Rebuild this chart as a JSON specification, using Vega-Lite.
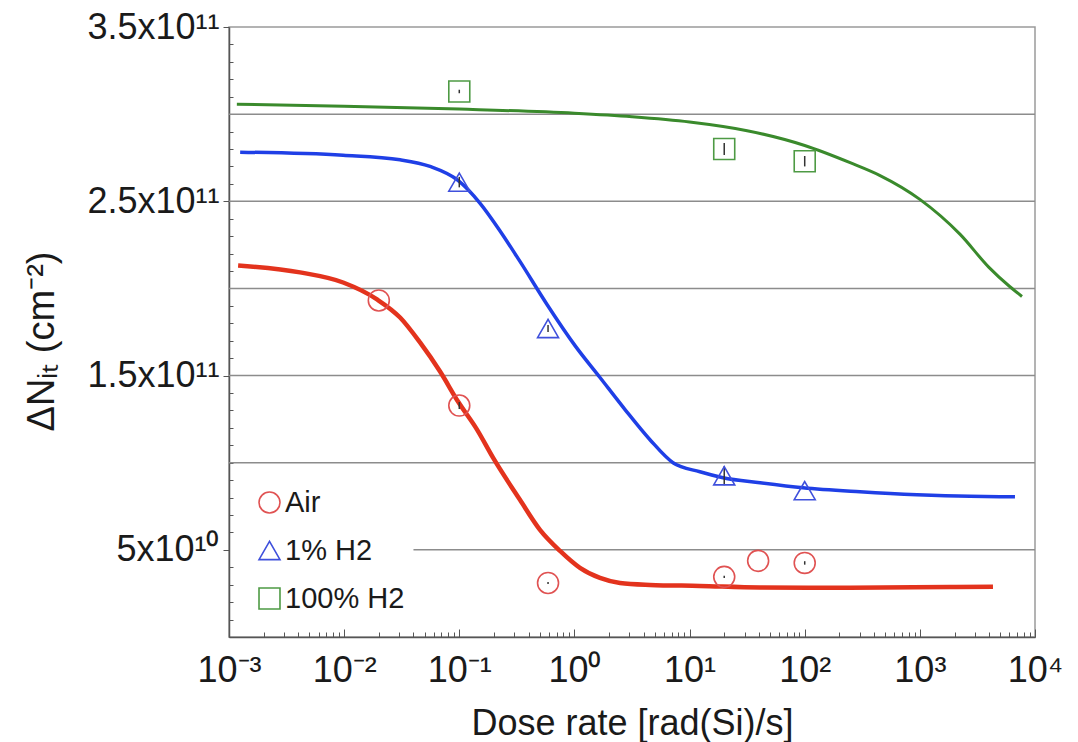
{
  "$schema": "https://vega.github.io/schema/vega-lite/v6.json",
  "width": 806,
  "height": 610,
  "autosize": {"type": "none"},
  "padding": {"left": 229, "top": 27, "right": 43, "bottom": 105},
  "background": "white",
  "config": {
    "font": "Liberation Sans",
    "view": {"stroke": "#9a9a9a", "strokeWidth": 1.5},
    "axis": {"grid": false}
  },
  "datasets": {
    "grid": [
      {"g": 50000000000, "xa": 0.04, "xb": 10000},
      {"g": 100000000000, "xa": 0.001, "xb": 10000},
      {"g": 150000000000, "xa": 0.001, "xb": 10000},
      {"g": 200000000000, "xa": 0.001, "xb": 10000},
      {"g": 250000000000, "xa": 0.001, "xb": 10000},
      {"g": 300000000000, "xa": 0.001, "xb": 10000}
    ],
    "curves": [
      {"series": "Air", "rate": 0.0012, "n": 2.132e11},
      {"series": "Air", "rate": 0.00414, "n": 2.092e11},
      {"series": "Air", "rate": 0.0098, "n": 2.034e11},
      {"series": "Air", "rate": 0.0193, "n": 1.937e11},
      {"series": "Air", "rate": 0.0306, "n": 1.833e11},
      {"series": "Air", "rate": 0.0456, "n": 1.69e11},
      {"series": "Air", "rate": 0.0681, "n": 1.523e11},
      {"series": "Air", "rate": 0.0975, "n": 1.351e11},
      {"series": "Air", "rate": 0.1426, "n": 1.19e11},
      {"series": "Air", "rate": 0.1963, "n": 1.029e11},
      {"series": "Air", "rate": 0.3365, "n": 7.87e10},
      {"series": "Air", "rate": 0.502, "n": 6.15e10},
      {"series": "Air", "rate": 0.75, "n": 4.94e10},
      {"series": "Air", "rate": 1.117, "n": 3.97e10},
      {"series": "Air", "rate": 1.667, "n": 3.39e10},
      {"series": "Air", "rate": 2.489, "n": 3.1e10},
      {"series": "Air", "rate": 4.53, "n": 2.99e10},
      {"series": "Air", "rate": 12.3, "n": 2.93e10},
      {"series": "Air", "rate": 40.9, "n": 2.84e10},
      {"series": "Air", "rate": 247, "n": 2.83e10},
      {"series": "Air", "rate": 1828, "n": 2.87e10},
      {"series": "Air", "rate": 4315, "n": 2.88e10},
      {"series": "1% H2", "rate": 0.00125, "n": 2.782e11},
      {"series": "1% H2", "rate": 0.0098, "n": 2.764e11},
      {"series": "1% H2", "rate": 0.0306, "n": 2.738e11},
      {"series": "1% H2", "rate": 0.0557, "n": 2.7e11},
      {"series": "1% H2", "rate": 0.0975, "n": 2.62e11},
      {"series": "1% H2", "rate": 0.151, "n": 2.49e11},
      {"series": "1% H2", "rate": 0.226, "n": 2.33e11},
      {"series": "1% H2", "rate": 0.3365, "n": 2.155e11},
      {"series": "1% H2", "rate": 0.578, "n": 1.908e11},
      {"series": "1% H2", "rate": 1.012, "n": 1.672e11},
      {"series": "1% H2", "rate": 1.667, "n": 1.489e11},
      {"series": "1% H2", "rate": 2.75, "n": 1.305e11},
      {"series": "1% H2", "rate": 4.53, "n": 1.132e11},
      {"series": "1% H2", "rate": 7.18, "n": 1.0e11},
      {"series": "1% H2", "rate": 12.3, "n": 9.48e10},
      {"series": "1% H2", "rate": 19.5, "n": 9.14e10},
      {"series": "1% H2", "rate": 40.9, "n": 8.85e10},
      {"series": "1% H2", "rate": 96.6, "n": 8.56e10},
      {"series": "1% H2", "rate": 302, "n": 8.33e10},
      {"series": "1% H2", "rate": 944, "n": 8.16e10},
      {"series": "1% H2", "rate": 2729, "n": 8.07e10},
      {"series": "1% H2", "rate": 6699, "n": 8.05e10},
      {"series": "100% H2", "rate": 0.00117, "n": 3.057e11},
      {"series": "100% H2", "rate": 0.01, "n": 3.046e11},
      {"series": "100% H2", "rate": 0.1, "n": 3.029e11},
      {"series": "100% H2", "rate": 1, "n": 3.005e11},
      {"series": "100% H2", "rate": 3.16, "n": 2.985e11},
      {"series": "100% H2", "rate": 10, "n": 2.955e11},
      {"series": "100% H2", "rate": 31.6, "n": 2.905e11},
      {"series": "100% H2", "rate": 100, "n": 2.82e11},
      {"series": "100% H2", "rate": 251, "n": 2.72e11},
      {"series": "100% H2", "rate": 447, "n": 2.649e11},
      {"series": "100% H2", "rate": 1000, "n": 2.511e11},
      {"series": "100% H2", "rate": 2239, "n": 2.31e11},
      {"series": "100% H2", "rate": 3981, "n": 2.121e11},
      {"series": "100% H2", "rate": 6026, "n": 2.011e11},
      {"series": "100% H2", "rate": 7709, "n": 1.954e11}
    ],
    "points": [
      {"gas": "Air", "rate": 0.02, "n": 1.931e11, "lo": null, "hi": null},
      {"gas": "Air", "rate": 0.1, "n": 1.328e11, "lo": 1.308e11, "hi": 1.348e11},
      {"gas": "Air", "rate": 0.59, "n": 3.1e10, "lo": 3.04e10, "hi": 3.16e10},
      {"gas": "Air", "rate": 20, "n": 3.45e10, "lo": 3.38e10, "hi": 3.52e10},
      {"gas": "Air", "rate": 39.4, "n": 4.37e10, "lo": null, "hi": null},
      {"gas": "Air", "rate": 100, "n": 4.25e10, "lo": 4.15e10, "hi": 4.35e10},
      {"gas": "1% H2", "rate": 0.1, "n": 2.61e11, "lo": 2.58e11, "hi": 2.64e11},
      {"gas": "1% H2", "rate": 0.59, "n": 1.77e11, "lo": 1.75e11, "hi": 1.79e11},
      {"gas": "1% H2", "rate": 20, "n": 9.25e10, "lo": 8.7e10, "hi": 9.8e10},
      {"gas": "1% H2", "rate": 100, "n": 8.4e10, "lo": null, "hi": null},
      {"gas": "100% H2", "rate": 0.1, "n": 3.13e11, "lo": 3.12e11, "hi": 3.14e11},
      {"gas": "100% H2", "rate": 20, "n": 2.8e11, "lo": 2.765e11, "hi": 2.835e11},
      {"gas": "100% H2", "rate": 100, "n": 2.73e11, "lo": 2.7e11, "hi": 2.76e11}
    ]
  },
  "layer": [
    {
      "data": {"name": "grid"},
      "mark": {"type": "rule", "color": "#8c8c8c", "strokeWidth": 1.5},
      "encoding": {
        "y": {
          "field": "g", "type": "quantitative",
          "scale": {"domain": [0, 350000000000], "nice": false, "zero": false},
          "axis": {
            "title": "ΔNᵢₜ (cm⁻²)",
            "titleFontSize": 38, "titleFontWeight": "normal", "titleColor": "#1a1a1a",
            "titleAngle": -90, "titleAlign": "center", "titleBaseline": "alphabetic",
            "titleX": -176, "titleY": 314,
            "tickCount": 100,
            "values": [0, 10000000000, 20000000000, 30000000000, 40000000000, 50000000000, 60000000000, 70000000000, 80000000000, 90000000000, 100000000000, 110000000000, 120000000000, 130000000000, 140000000000, 150000000000, 160000000000, 170000000000, 180000000000, 190000000000, 200000000000, 210000000000, 220000000000, 230000000000, 240000000000, 250000000000, 260000000000, 270000000000, 280000000000, 290000000000, 300000000000, 310000000000, 320000000000, 330000000000, 340000000000, 350000000000],
            "labelExpr": "round(datum.value/1e9) == 50 ? '5x10¹⁰' : round(datum.value/1e9) == 150 ? '1.5x10¹¹' : round(datum.value/1e9) == 250 ? '2.5x10¹¹' : round(datum.value/1e9) == 350 ? '3.5x10¹¹' : ''",
            "labelFontSize": 36, "labelColor": "#1a1a1a", "labelPadding": 4,
            "labelOverlap": false, "labelBound": false, "labelFlush": false,
            "tickColor": "#555555", "tickWidth": 1,
            "tickSize": {"condition": {"test": "indexof([50,150,250,350], round(datum.value/1e9)) >= 0", "value": 6}, "value": -4},
            "domainColor": "#555555", "domainWidth": 1.5
          }
        },
        "x": {
          "field": "xa", "type": "quantitative",
          "scale": {"type": "log", "domain": [0.001, 10000], "nice": false},
          "axis": {
            "title": "Dose rate [rad(Si)/s]",
            "titleFontSize": 36, "titleFontWeight": "normal", "titleColor": "#1a1a1a",
            "titleBaseline": "alphabetic", "titleY": 97,
            "tickCount": 200,
            "values": [0.001, 0.002, 0.003, 0.004, 0.005, 0.006, 0.007, 0.008, 0.009, 0.01, 0.02, 0.03, 0.04, 0.05, 0.06, 0.07, 0.08, 0.09, 0.1, 0.2, 0.3, 0.4, 0.5, 0.6, 0.7, 0.8, 0.9, 1, 2, 3, 4, 5, 6, 7, 8, 9, 10, 20, 30, 40, 50, 60, 70, 80, 90, 100, 200, 300, 400, 500, 600, 700, 800, 900, 1000, 2000, 3000, 4000, 5000, 6000, 7000, 8000, 9000, 10000],
            "labelExpr": "abs(datum.value/pow(10, round(log(datum.value)/LN10)) - 1) > 1e-6 ? '' : round(log(datum.value)/LN10) == -3 ? '10⁻³' : round(log(datum.value)/LN10) == -2 ? '10⁻²' : round(log(datum.value)/LN10) == -1 ? '10⁻¹' : round(log(datum.value)/LN10) == 0 ? '10⁰' : round(log(datum.value)/LN10) == 1 ? '10¹' : round(log(datum.value)/LN10) == 2 ? '10²' : round(log(datum.value)/LN10) == 3 ? '10³' : '10⁴'",
            "labelFontSize": 36, "labelColor": "#1a1a1a", "labelPadding": 24,
            "labelOverlap": false, "labelBound": false, "labelFlush": false,
            "tickColor": "#555555", "tickWidth": 1,
            "tickSize": {"condition": {"test": "abs(datum.value/pow(10, round(log(datum.value)/LN10)) - 1) < 1e-6", "value": -8}, "value": -5},
            "domainColor": "#555555", "domainWidth": 1.5
          }
        },
        "x2": {"field": "xb"}
      }
    },
    {
      "data": {"name": "curves"},
      "transform": [{"filter": "datum.series == 'Air'"}],
      "mark": {"type": "line", "color": "#e3331d", "strokeWidth": 4.5, "interpolate": "monotone"},
      "encoding": {
        "x": {"field": "rate", "type": "quantitative"},
        "y": {"field": "n", "type": "quantitative"}
      }
    },
    {
      "data": {"name": "curves"},
      "transform": [{"filter": "datum.series == '1% H2'"}],
      "mark": {"type": "line", "color": "#1f3fe6", "strokeWidth": 3.5, "interpolate": "monotone"},
      "encoding": {
        "x": {"field": "rate", "type": "quantitative"},
        "y": {"field": "n", "type": "quantitative"}
      }
    },
    {
      "data": {"name": "curves"},
      "transform": [{"filter": "datum.series == '100% H2'"}],
      "mark": {"type": "line", "color": "#3a8a2c", "strokeWidth": 3, "interpolate": "monotone"},
      "encoding": {
        "x": {"field": "rate", "type": "quantitative"},
        "y": {"field": "n", "type": "quantitative"}
      }
    },
    {
      "data": {"name": "points"},
      "transform": [{"filter": "datum.lo != null"}],
      "mark": {"type": "rule", "color": "#333333", "strokeWidth": 1.5},
      "encoding": {
        "x": {"field": "rate", "type": "quantitative"},
        "y": {"field": "lo", "type": "quantitative"},
        "y2": {"field": "hi"}
      }
    },
    {
      "data": {"name": "points"},
      "mark": {"type": "point", "filled": false, "strokeWidth": 1.6, "size": 440, "opacity": 1},
      "encoding": {
        "x": {"field": "rate", "type": "quantitative"},
        "y": {"field": "n", "type": "quantitative"},
        "color": {
          "field": "gas", "type": "nominal",
          "scale": {"domain": ["Air", "1% H2", "100% H2"], "range": ["#e05252", "#3f50dc", "#4e9a44"]},
          "legend": {
            "title": null, "orient": "none", "legendX": 26, "legendY": 461,
            "padding": 0, "labelFontSize": 29, "labelColor": "#1a1a1a",
            "symbolSize": 440, "symbolStrokeWidth": 1.6, "rowPadding": 18, "labelOffset": 1
          }
        },
        "shape": {
          "field": "gas", "type": "nominal",
          "scale": {"domain": ["Air", "1% H2", "100% H2"], "range": ["circle", "triangle-up", "square"]},
          "legend": {
            "title": null, "orient": "none", "legendX": 26, "legendY": 461,
            "padding": 0, "labelFontSize": 29, "labelColor": "#1a1a1a",
            "symbolSize": 440, "symbolStrokeWidth": 1.6, "rowPadding": 18, "labelOffset": 1
          }
        }
      }
    }
  ]
}
